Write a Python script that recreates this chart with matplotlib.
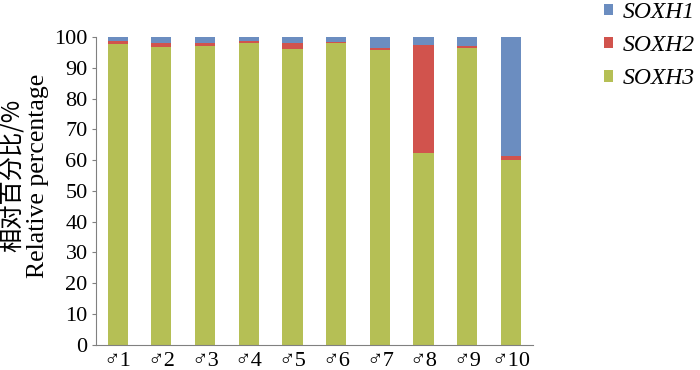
import numpy as np
import matplotlib
matplotlib.use("Agg")
from matplotlib import pyplot as plt

plt.rcParams['font.family'] = ['Liberation Serif', 'DejaVu Sans']

# data
samples = ['♂1', '♂2', '♂3', '♂4', '♂5', '♂6', '♂7', '♂8', '♂9', '♂10']
soxh3 = [97.7, 96.6, 97.0, 97.9, 96.2, 97.9, 95.8, 62.3, 96.3, 60.1]
soxh2 = [1.0, 1.6, 1.0, 0.7, 1.7, 0.6, 0.5, 35.1, 0.8, 1.3]
soxh1 = [100 - a - b for a, b in zip(soxh3, soxh2)]

c_blue = '#6B8DC0'
c_red = '#D1534D'
c_green = '#B5BF55'

fig = plt.figure(figsize=(7, 3.7), dpi=100)
ax = fig.add_axes([0.137, 0.068, 0.624, 0.832])

x = np.arange(len(samples))
w = 0.46
b3 = ax.bar(x, soxh3, w, color=c_green, label='SOXH3')
b2 = ax.bar(x, soxh2, w, bottom=soxh3, color=c_red, label='SOXH2')
b1 = ax.bar(x, soxh1, w, bottom=np.array(soxh3) + np.array(soxh2), color=c_blue, label='SOXH1')

ax.set_xlim(-0.5, len(samples) - 0.5)
ax.set_ylim(0, 100)
ax.set_yticks(range(0, 101, 10))
ax.set_xticks(x)
ax.set_xticklabels(samples, fontsize=16)
ax.tick_params(axis='x', length=0, pad=5)
ax.tick_params(axis='y', labelsize=16, length=3, color='#808080', pad=3)
for s in ['top', 'right']:
    ax.spines[s].set_visible(False)
for s in ['left', 'bottom']:
    ax.spines[s].set_color('#808080')

fig.text(0.019, 0.525, '相对百分比/%', rotation=90, ha='center', va='center',
         fontsize=17.5, family=['Noto Sans CJK SC', 'DejaVu Sans'])
fig.text(0.054, 0.525, 'Relative percentage', rotation=90, ha='center', va='center',
         fontsize=18.5)

leg = fig.legend([b1, b2, b3], ['SOXH1', 'SOXH2', 'SOXH3'], loc='upper left',
                 bbox_to_anchor=(604 / 700, 0.995), frameon=False, borderpad=0,
                 borderaxespad=0, prop={'style': 'italic', 'size': 17},
                 handlelength=0.38, handleheight=0.38, labelspacing=0.52,
                 handletextpad=0.42)

fig.savefig('out.png', dpi=100)
